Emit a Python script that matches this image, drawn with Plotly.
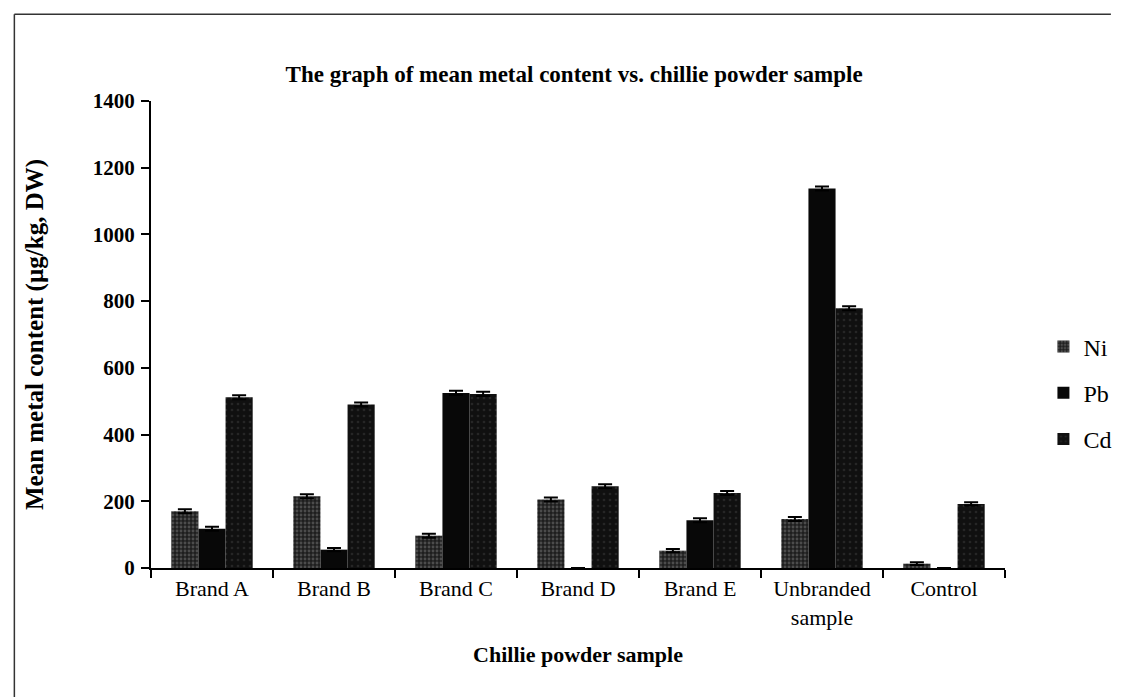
import plotly.graph_objects as go

# Chart data
samples = ["Brand A", "Brand B", "Brand C", "Brand D", "Brand E", "Unbranded<br>sample", "Control"]
ni = [170, 215, 97, 205, 52, 147, 13]
pb = [118, 55, 525, 0, 143, 1138, 0]
cd = [512, 490, 522, 245, 225, 779, 192]
ni_err = [6, 6, 6, 6, 5, 6, 4]
pb_err = [6, 5, 6, 0, 6, 6, 0]
cd_err = [6, 6, 6, 6, 6, 6, 5]
y_ticks = [0, 200, 400, 600, 800, 1000, 1200, 1400]

FONT = "Liberation Serif, Times New Roman, serif"

series = [
    ("Ni", ni, ni_err, dict(color="#1e1e1e", pattern=dict(shape=".", fgcolor="#7a7a7a", size=4, solidity=0.4))),
    ("Pb", pb, pb_err, dict(color="#080808")),
    ("Cd", cd, cd_err, dict(color="#101010", pattern=dict(shape=".", fgcolor="#3c3c3c", size=6, solidity=0.15))),
]

fig = go.Figure()
for name, vals, err, marker in series:
    fig.add_trace(go.Bar(
        name=name,
        x=samples,
        y=vals,
        marker=marker,
        marker_line_width=0,
        legendgroup=name,
        error_y=dict(type="data", array=err, visible=True,
                     color="#000000", thickness=2, width=7),
    ))

fig.update_layout(
    width=1121, height=697,
    paper_bgcolor="white", plot_bgcolor="white",
    margin=dict(l=143, r=108, t=93, b=137),
    barmode="group", bargap=0.333, bargroupgap=0,
    font=dict(family=FONT, color="black", size=21),
    title=dict(text="<b>The graph of mean metal content vs. chillie powder sample</b>",
               font=dict(size=23), x=0.505, xanchor="center", y=0.905, yanchor="middle"),
    legend=dict(x=1.045, y=0.375, xanchor="left", yanchor="middle",
                font=dict(size=24), tracegroupgap=12, itemwidth=30,
                bgcolor="rgba(0,0,0,0)"),
    showlegend=True,
)

fig.update_xaxes(
    automargin=False,
    showline=True, linecolor="black", linewidth=2,
    ticks="outside", ticklen=8, tickcolor="black", tickwidth=2,
    tickson="boundaries",
    tickfont=dict(size=22),
    title=dict(text="<b>Chillie powder sample</b>", font=dict(size=22), standoff=18),
    showgrid=False,
)
fig.update_yaxes(
    automargin=False,
    range=[0, 1400], tickvals=y_ticks,
    showline=True, linecolor="black", linewidth=2,
    ticks="outside", ticklen=8, tickcolor="black", tickwidth=2,
    tickfont=dict(size=21, weight="bold"),
    ticklabelstandoff=2,
    title=dict(text="<b>Mean metal content (µg/kg, DW)</b>", font=dict(size=25), standoff=42),
    showgrid=False, zeroline=False,
)

# outer frame of the scanned figure (top and left edges)
fig.add_shape(type="line", xref="paper", yref="paper",
              x0=-0.16, x1=1.124, y0=1.186, y1=1.186,
              line=dict(color="#333333", width=1.5))
fig.add_shape(type="line", xref="paper", yref="paper",
              x0=-0.16, x1=-0.16, y0=-0.3, y1=1.186,
              line=dict(color="#333333", width=1.5))

fig.write_html("out.html")
